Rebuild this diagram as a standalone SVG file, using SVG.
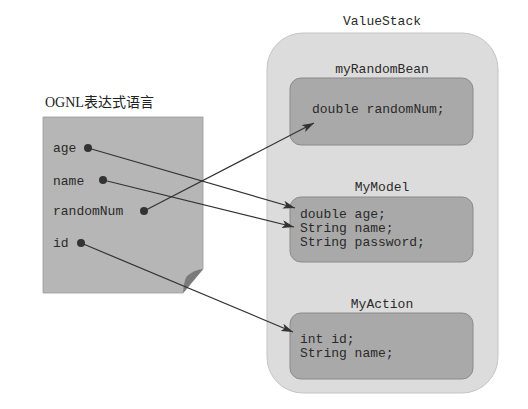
<svg xmlns="http://www.w3.org/2000/svg" width="528" height="409" viewBox="0 0 528 409">
<defs>
<style>
.mono{font-family:"Liberation Mono","DejaVu Sans Mono",monospace;font-size:13px;fill:#2a2a2a}
.ttl{font-family:"Liberation Serif","Noto Sans CJK SC",serif;font-size:14px;fill:#222}
.box{fill:#a9a9a9;stroke:#8a8a8a;stroke-width:1}
.dot{fill:#333}
.con{stroke:#333;stroke-width:1.2;fill:none;marker-end:url(#ah)}
</style>
<marker id="ah" viewBox="0 0 12 8" refX="12" refY="4" markerWidth="12" markerHeight="8" markerUnits="userSpaceOnUse" orient="auto">
<path d="M0,0 L12,4 L0,8 L3,4 Z" fill="#333"/>
</marker>
</defs>
<rect width="528" height="409" fill="#fff"/>
<g id="ognl">
<text class="ttl" x="45" y="107">OGNL表达式语言</text>
<path d="M43,117 H203 V269 L183,293 H43 Z" fill="#b6b6b6" stroke="#9a9a9a" stroke-width="0.8"/>
<path d="M203,269 L183,293 Q184,280 187,276 Q194,270 203,269 Z" fill="#7a7a7a"/>
<text class="mono" x="53" y="152">age</text>
<text class="mono" x="53" y="185">name</text>
<text class="mono" x="53" y="215">randomNum</text>
<text class="mono" x="53" y="247">id</text>
<circle class="dot" cx="88" cy="148" r="4"/>
<circle class="dot" cx="103" cy="180" r="4"/>
<circle class="dot" cx="144" cy="211" r="4"/>
<circle class="dot" cx="81" cy="243" r="4"/>
</g>
<g id="valuestack">
<text class="mono" x="382" y="25" text-anchor="middle">ValueStack</text>
<rect x="267" y="33" width="231" height="360" rx="36" fill="#dcdcdc" stroke="#c4c4c4" stroke-width="1"/>
</g>
<g id="myRandomBean">
<text class="mono" x="382" y="73" text-anchor="middle">myRandomBean</text>
<rect class="box" x="290" y="78" width="183" height="67" rx="11"/>
<text class="mono" x="312" y="113">double randomNum;</text>
</g>
<g id="MyModel">
<text class="mono" x="382" y="191" text-anchor="middle">MyModel</text>
<rect class="box" x="290" y="197" width="183" height="65" rx="11"/>
<text class="mono" x="300" y="218">double age;</text>
<text class="mono" x="300" y="232">String name;</text>
<text class="mono" x="300" y="246">String password;</text>
</g>
<g id="MyAction">
<text class="mono" x="382" y="308" text-anchor="middle">MyAction</text>
<rect class="box" x="290" y="313" width="183" height="66" rx="11"/>
<text class="mono" x="300" y="343">int id;</text>
<text class="mono" x="300" y="357">String name;</text>
</g>
<g id="connectors">
<line class="con" x1="88" y1="148" x2="295" y2="208"/>
<line class="con" x1="103" y1="180" x2="294" y2="227"/>
<line class="con" x1="144" y1="211" x2="314" y2="123"/>
<line class="con" x1="81" y1="243" x2="293" y2="332"/>
</g>
</svg>
